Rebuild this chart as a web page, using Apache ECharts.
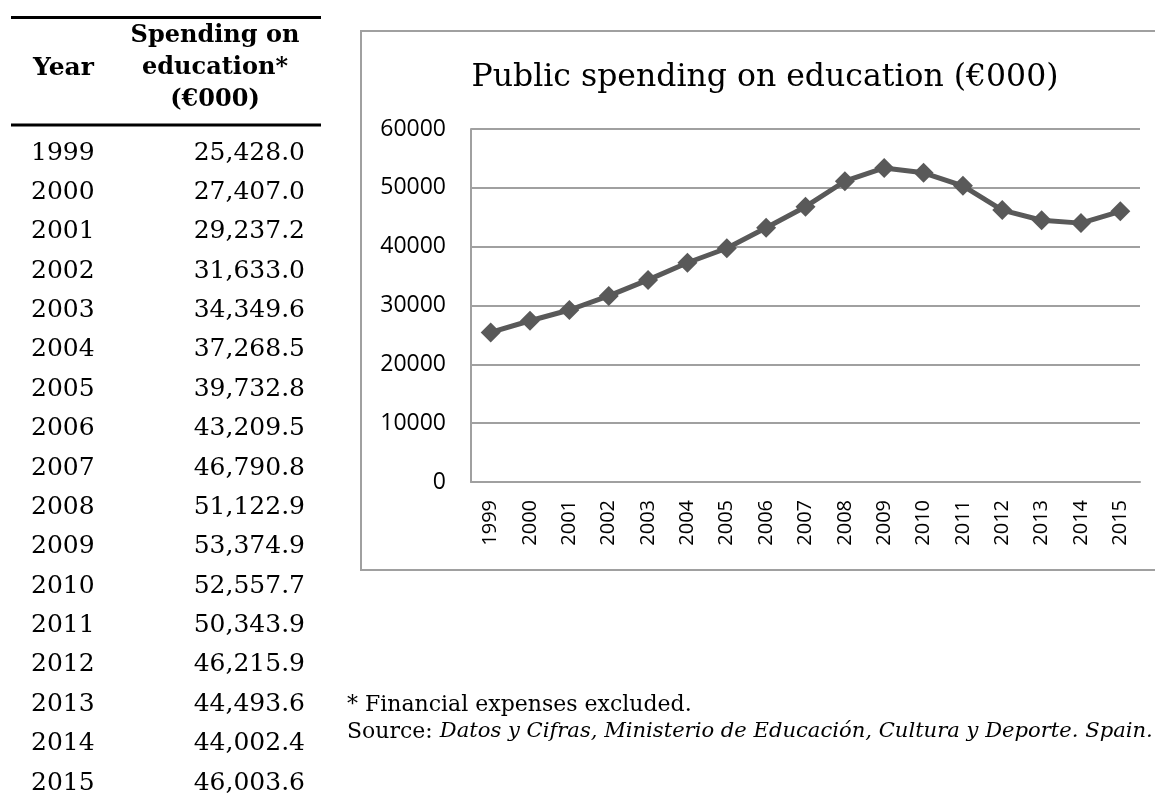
<!DOCTYPE html>
<html><head><meta charset="utf-8">
<script src="https://cdn.jsdelivr.net/npm/echarts@6/dist/echarts.min.js"></script>
<style>html,body{margin:0;padding:0;background:#fff}#c{width:1155px;height:803px}</style>
</head><body><div id="c"></div>
<script>
const years = ['1999','2000','2001','2002','2003','2004','2005','2006','2007','2008','2009','2010','2011','2012','2013','2014','2015'];
const spending = [25428.0, 27407.0, 29237.2, 31633.0, 34349.6, 37268.5, 39732.8, 43209.5, 46790.8, 51122.9, 53374.9, 52557.7, 50343.9, 46215.9, 44493.6, 44002.4, 46003.6];
const yMin = 0, yMax = 60000, yInterval = 10000;
const headerYear = 'Year';
const headerSpending = ['Spending on', 'education*', '(€000)'];
const chartTitle = 'Public spending on education (€000)';
const footnote = '* Financial expenses excluded.';
const sourceLabel = 'Source: ';
const sourceText = 'Datos y Cifras, Ministerio de Educación, Cultura y Deporte. Spain.';

const SERIF = '"DejaVu Serif", serif';
const fmt = v => v.toLocaleString('en-US', {minimumFractionDigits: 1, maximumFractionDigits: 1});

const graphics = [];
// table rules
graphics.push({type:'line', shape:{x1:11, y1:17.5, x2:321, y2:17.5}, style:{stroke:'#000', lineWidth:3}});
graphics.push({type:'line', shape:{x1:11, y1:125, x2:321, y2:125}, style:{stroke:'#000', lineWidth:3}});
// header
graphics.push({type:'text', style:{x:33, y:68, text:headerYear, font:'bold 25px ' + SERIF, fill:'#000', align:'left', verticalAlign:'middle'}});
const hy = [36, 68, 100];
headerSpending.forEach((t, i) => {
  graphics.push({type:'text', style:{x:215, y:hy[i], text:t, font:'bold 24px ' + SERIF, fill:'#000', align:'center', verticalAlign:'middle'}});
});
// rows
years.forEach((y, i) => {
  const cy = 153 + i * 39.375;
  graphics.push({type:'text', style:{x:31, y:cy, text:y, font:'25px ' + SERIF, fill:'#000', align:'left', verticalAlign:'middle'}});
  graphics.push({type:'text', style:{x:305, y:cy, text:fmt(spending[i]), font:'25px ' + SERIF, fill:'#000', align:'right', verticalAlign:'middle'}});
});
// chart box
graphics.push({type:'rect', shape:{x:361, y:31, width:830, height:539}, style:{fill:null, stroke:'#a0a0a0', lineWidth:2}});
// title
graphics.push({type:'text', style:{x:765, y:78, text:chartTitle, font:'31.5px ' + SERIF, fill:'#000', align:'center', verticalAlign:'middle'}});
// footnotes
graphics.push({type:'text', style:{x:347, y:705, text:footnote, font:'22px ' + SERIF, fill:'#000', align:'left', verticalAlign:'middle'}});
graphics.push({type:'text', style:{x:347, y:732, text:'{n|' + sourceLabel + '}{i|' + sourceText + '}', fill:'#000', align:'left', verticalAlign:'middle',
  rich:{n:{fontFamily:'DejaVu Serif', fontSize:22, fill:'#000'}, i:{fontFamily:'DejaVu Serif', fontSize:21.1, fontStyle:'italic', fill:'#000'}}}});

const chart = echarts.init(document.getElementById('c'), null, {renderer:'canvas'});
chart.setOption({
  backgroundColor:'#fff',
  animation:false,
  grid:{left:471, top:129, right:15, bottom:321, containLabel:false},
  xAxis:{type:'category', data:years, boundaryGap:true,
    axisLine:{show:true, lineStyle:{color:'#a0a0a0', width:2}},
    axisTick:{show:false},
    axisLabel:{rotate:90, margin:18, fontFamily:'Open Sans', fontSize:20, color:'#000', interval:0}},
  yAxis:{type:'value', min:yMin, max:yMax, interval:yInterval,
    axisLine:{show:true, lineStyle:{color:'#a0a0a0', width:2}},
    axisTick:{show:false},
    splitLine:{show:true, lineStyle:{color:'#a0a0a0', width:2}},
    axisLabel:{margin:25, fontFamily:'Open Sans', fontSize:23, color:'#000', formatter: v => String(v)}},
  series:[{type:'line', data:spending, symbol:'diamond', symbolSize:20,
    lineStyle:{color:'#595959', width:5}, itemStyle:{color:'#595959'}}],
  graphic:graphics
});
</script></body></html>
